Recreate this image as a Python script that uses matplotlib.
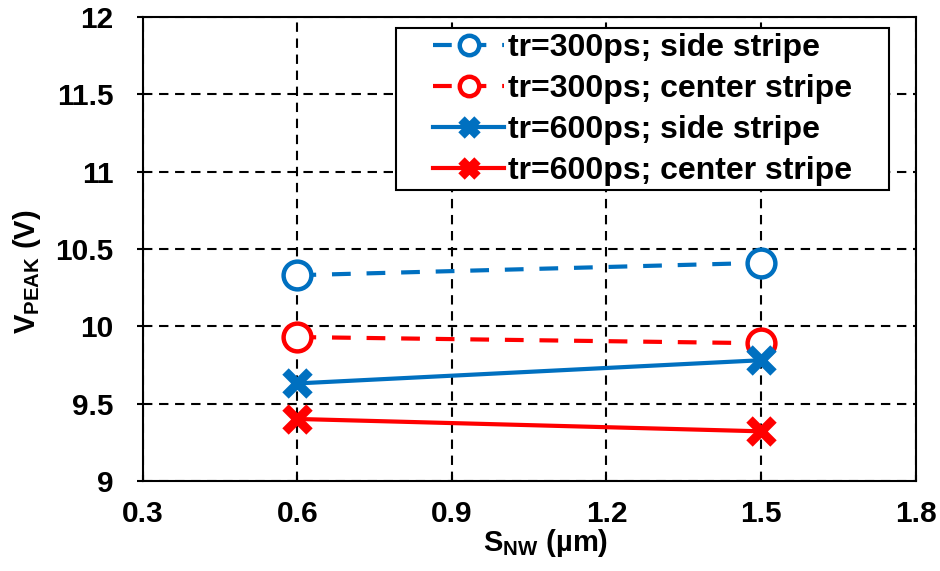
import matplotlib
matplotlib.use("Agg")
import matplotlib.pyplot as plt
from matplotlib.patches import Rectangle

plt.rcParams["font.family"] = ["Liberation Sans", "DejaVu Sans"]
plt.rcParams["font.weight"] = "bold"
plt.rcParams["mathtext.fontset"] = "custom"
plt.rcParams["mathtext.rm"] = "Liberation Sans:bold"
plt.rcParams["mathtext.bf"] = "Liberation Sans:bold"
plt.rcParams["mathtext.it"] = "Liberation Sans:bold"

# S_NW spacing (um) and peak voltage for each rise time / stripe position
s_nw = [0.6, 1.5]
v_300_side = [10.33, 10.41]
v_300_center = [9.93, 9.89]
v_600_side = [9.63, 9.78]
v_600_center = [9.40, 9.32]

labels = [
    "tr=300ps; side stripe",
    "tr=300ps; center stripe",
    "tr=600ps; side stripe",
    "tr=600ps; center stripe",
]

x_ticks = [0.3, 0.6, 0.9, 1.2, 1.5, 1.8]
y_ticks = [9, 9.5, 10, 10.5, 11, 11.5, 12]

blue = "#0070C0"
red = "#FF0000"
dash = (0, (4.5, 3.8))

fig = plt.figure(figsize=(9.4, 5.71), dpi=100)
ax = fig.add_axes([0.152, 0.158, 0.822, 0.812])

circ = dict(marker="o", ms=20, mfc="white", mew=3.2, lw=3, linestyle=dash, zorder=3)
cross = dict(marker="x", ms=17, mew=6.5, lw=3, zorder=3)
ax.plot(s_nw, v_300_side, color=blue, label=labels[0], **circ)
ax.plot(s_nw, v_300_center, color=red, label=labels[1], **circ)
ax.plot(s_nw, v_600_side, color=blue, label=labels[2], **cross)
ax.plot(s_nw, v_600_center, color=red, label=labels[3], **cross)

ax.set_xlim(0.3, 1.8)
ax.set_ylim(9, 12)
ax.set_xticks(x_ticks)
ax.set_xticklabels([f"{v:g}" for v in x_ticks])
ax.set_yticks(y_ticks)
ax.set_yticklabels([f"{v:g}" for v in y_ticks])
ax.tick_params(axis="both", labelsize=21.5, width=1.5)
ax.tick_params(axis="x", direction="in", length=4, pad=13.5)
ax.tick_params(axis="y", direction="out", length=4, pad=17)

ax.grid(True, color="black", linestyle=(0, (4.5, 3.2)), linewidth=1.5)
for sp in ax.spines.values():
    sp.set_linewidth(1.5)

ax.set_xlabel(r"$\mathrm{S_{NW}}$ (µm)", fontsize=21, fontweight="bold")
ax.xaxis.label.set_va("top")
ax.xaxis.set_label_coords(0.521, -0.100)
ax.set_ylabel(r"$\mathrm{V_{PEAK}}$ (V)", fontsize=21, fontweight="bold")
ax.yaxis.label.set_va("center")
ax.yaxis.set_label_coords(-0.150, 0.45)

# legend frame drawn separately so the box can sit wider than the entries
ax.add_patch(Rectangle((0.327, 0.627), 0.639, 0.349, transform=ax.transAxes,
                       facecolor="white", edgecolor="black", lw=1.5, zorder=4))
leg = ax.legend(loc="upper left", bbox_to_anchor=(0.376, 0.965), fontsize=23,
                frameon=False, handlelength=2.2, handletextpad=0.15,
                borderpad=0.0, borderaxespad=0.0, labelspacing=0.34,
                markerscale=0.7)
leg.set_zorder(5)

fig.savefig("out.png", dpi=100)
